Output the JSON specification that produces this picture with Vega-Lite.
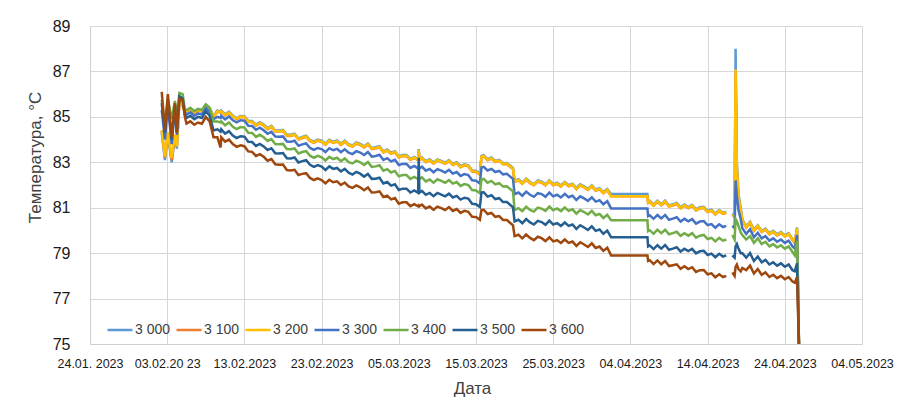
{
"$schema":"https://vega.github.io/schema/vega-lite/v6.json",
"width":772,"height":318,
"autosize":{"type":"none"},
"padding":{"left":90,"top":26,"right":44,"bottom":69},
"background":"white",
"config":{"font":"Liberation Sans","view":{"stroke":null}},
"data":{"values":[
{"t":"2023-02-02T07:00","a":84.3,"b":84.4,"c":84.4,"d":85.3,"e":85.75,"f":85.6,"g":86.1},
{"t":"2023-02-02T17:00","a":83.1,"b":83.2,"c":83.25,"d":84.0,"e":84.6,"f":84.3,"g":84.4},
{"t":"2023-02-03T02:00","a":84.2,"b":84.3,"c":84.3,"d":85.5,"e":85.8,"f":85.7,"g":86.0},
{"t":"2023-02-03T14:00","a":83.0,"b":83.1,"c":83.2,"d":83.8,"e":84.9,"f":84.0,"g":84.1},
{"t":"2023-02-04T00:00","a":84.1,"b":84.2,"c":84.2,"d":85.4,"e":85.7,"f":85.5,"g":85.6},
{"t":"2023-02-04T06:00","a":83.6,"b":83.7,"c":83.7,"d":84.2,"e":85.0,"f":84.3,"g":84.3},
{"t":"2023-02-04T14:00","a":85.7,"b":85.75,"c":85.75,"d":85.9,"e":86.05,"f":85.9,"g":85.8},
{"t":"2023-02-05T00:00","a":85.5,"b":85.5,"c":85.5,"d":85.8,"e":86.0,"f":85.8,"g":85.75},
{"t":"2023-02-05T07:00","a":85.2,"b":85.2,"c":85.2,"d":85.2,"e":85.3,"f":85.1,"g":85.0},
{"t":"2023-02-05T12:00","a":85.28,"b":85.23,"c":85.25,"d":85.1,"e":85.3,"f":84.95,"g":84.7},
{"t":"2023-02-06T00:00","a":85.38,"b":85.33,"c":85.35,"d":85.2,"e":85.4,"f":85.05,"g":84.8},
{"t":"2023-02-06T12:00","a":85.23,"b":85.18,"c":85.2,"d":85.05,"e":85.25,"f":84.9,"g":84.65},
{"t":"2023-02-07T00:00","a":85.33,"b":85.28,"c":85.3,"d":85.15,"e":85.35,"f":85.0,"g":84.75},
{"t":"2023-02-07T12:00","a":85.28,"b":85.23,"c":85.25,"d":85.1,"e":85.3,"f":84.95,"g":84.7},
{"t":"2023-02-08T00:00","a":85.53,"b":85.48,"c":85.5,"d":85.4,"e":85.55,"f":85.25,"g":85.0},
{"t":"2023-02-08T12:00","a":85.38,"b":85.33,"c":85.35,"d":85.2,"e":85.4,"f":85.05,"g":84.8},
{"t":"2023-02-09T00:00","a":85.03,"b":84.98,"c":85.0,"d":84.9,"e":84.8,"f":84.4,"g":84.1},
{"t":"2023-02-09T12:00","a":85.28,"b":85.23,"c":85.25,"d":85.0,"e":84.8,"f":84.45,"g":84.1},
{"t":"2023-02-09T22:00","a":85.23,"b":85.18,"c":85.2,"d":84.95,"e":84.75,"f":84.35,"g":83.65},
{"t":"2023-02-10T00:00","a":85.28,"b":85.23,"c":85.25,"d":85.05,"e":84.80,"f":84.45,"g":84.10},
{"t":"2023-02-10T12:00","a":85.11,"b":85.06,"c":85.08,"d":84.89,"e":84.63,"f":84.26,"g":83.91},
{"t":"2023-02-11T00:00","a":85.23,"b":85.18,"c":85.20,"d":85.02,"e":84.75,"f":84.37,"g":84.00},
{"t":"2023-02-11T12:00","a":85.05,"b":85.00,"c":85.02,"d":84.85,"e":84.56,"f":84.18,"g":83.80},
{"t":"2023-02-12T00:00","a":84.95,"b":84.90,"c":84.92,"d":84.76,"e":84.46,"f":84.07,"g":83.68},
{"t":"2023-02-12T12:00","a":85.04,"b":84.99,"c":85.01,"d":84.85,"e":84.55,"f":84.15,"g":83.75},
{"t":"2023-02-13T00:00","a":85.03,"b":84.98,"c":85.00,"d":84.83,"e":84.53,"f":84.13,"g":83.71},
{"t":"2023-02-13T12:00","a":84.82,"b":84.77,"c":84.79,"d":84.61,"e":84.30,"f":83.90,"g":83.48},
{"t":"2023-02-14T00:00","a":84.82,"b":84.77,"c":84.79,"d":84.60,"e":84.29,"f":83.89,"g":83.46},
{"t":"2023-02-14T12:00","a":84.66,"b":84.61,"c":84.63,"d":84.43,"e":84.12,"f":83.72,"g":83.28},
{"t":"2023-02-15T00:00","a":84.76,"b":84.71,"c":84.73,"d":84.52,"e":84.21,"f":83.81,"g":83.36},
{"t":"2023-02-15T12:00","a":84.66,"b":84.61,"c":84.63,"d":84.41,"e":84.10,"f":83.70,"g":83.24},
{"t":"2023-02-16T00:00","a":84.51,"b":84.46,"c":84.48,"d":84.26,"e":83.94,"f":83.54,"g":83.07},
{"t":"2023-02-16T12:00","a":84.60,"b":84.55,"c":84.57,"d":84.34,"e":84.02,"f":83.62,"g":83.14},
{"t":"2023-02-17T00:00","a":84.40,"b":84.35,"c":84.37,"d":84.13,"e":83.80,"f":83.40,"g":82.91},
{"t":"2023-02-17T12:00","a":84.40,"b":84.35,"c":84.37,"d":84.12,"e":83.79,"f":83.39,"g":82.89},
{"t":"2023-02-18T00:00","a":84.43,"b":84.38,"c":84.40,"d":84.14,"e":83.81,"f":83.41,"g":82.90},
{"t":"2023-02-18T12:00","a":84.21,"b":84.16,"c":84.18,"d":83.91,"e":83.58,"f":83.18,"g":82.66},
{"t":"2023-02-19T00:00","a":84.21,"b":84.16,"c":84.18,"d":83.90,"e":83.57,"f":83.17,"g":82.64},
{"t":"2023-02-19T12:00","a":84.26,"b":84.21,"c":84.23,"d":83.95,"e":83.61,"f":83.21,"g":82.67},
{"t":"2023-02-20T00:00","a":84.05,"b":84.00,"c":84.02,"d":83.73,"e":83.39,"f":82.99,"g":82.44},
{"t":"2023-02-20T12:00","a":84.12,"b":84.07,"c":84.09,"d":83.79,"e":83.45,"f":83.05,"g":82.49},
{"t":"2023-02-21T00:00","a":84.17,"b":84.12,"c":84.14,"d":83.83,"e":83.49,"f":83.09,"g":82.52},
{"t":"2023-02-21T12:00","a":83.98,"b":83.93,"c":83.95,"d":83.63,"e":83.29,"f":82.89,"g":82.31},
{"t":"2023-02-22T00:00","a":83.91,"b":83.86,"c":83.88,"d":83.55,"e":83.20,"f":82.80,"g":82.22},
{"t":"2023-02-22T12:00","a":84.00,"b":83.95,"c":83.97,"d":83.63,"e":83.28,"f":82.88,"g":82.29},
{"t":"2023-02-23T00:00","a":83.95,"b":83.90,"c":83.92,"d":83.58,"e":83.22,"f":82.81,"g":82.22},
{"t":"2023-02-23T12:00","a":83.82,"b":83.77,"c":83.79,"d":83.45,"e":83.08,"f":82.66,"g":82.07},
{"t":"2023-02-24T00:00","a":83.99,"b":83.94,"c":83.96,"d":83.62,"e":83.24,"f":82.82,"g":82.23},
{"t":"2023-02-24T12:00","a":83.90,"b":83.85,"c":83.87,"d":83.53,"e":83.14,"f":82.71,"g":82.12},
{"t":"2023-02-25T00:00","a":83.96,"b":83.91,"c":83.93,"d":83.59,"e":83.20,"f":82.75,"g":82.16},
{"t":"2023-02-25T12:00","a":83.82,"b":83.77,"c":83.79,"d":83.45,"e":83.05,"f":82.60,"g":82.00},
{"t":"2023-02-26T00:00","a":83.95,"b":83.90,"c":83.92,"d":83.57,"e":83.17,"f":82.71,"g":82.11},
{"t":"2023-02-26T12:00","a":83.80,"b":83.75,"c":83.77,"d":83.42,"e":83.01,"f":82.54,"g":81.94},
{"t":"2023-02-27T00:00","a":83.74,"b":83.69,"c":83.71,"d":83.36,"e":82.95,"f":82.46,"g":81.87},
{"t":"2023-02-27T12:00","a":83.87,"b":83.82,"c":83.84,"d":83.49,"e":83.07,"f":82.58,"g":81.98},
{"t":"2023-02-28T00:00","a":83.81,"b":83.76,"c":83.78,"d":83.43,"e":83.00,"f":82.50,"g":81.90},
{"t":"2023-02-28T12:00","a":83.70,"b":83.65,"c":83.67,"d":83.32,"e":82.88,"f":82.37,"g":81.77},
{"t":"2023-03-01T00:00","a":83.83,"b":83.78,"c":83.80,"d":83.45,"e":83.01,"f":82.49,"g":81.89},
{"t":"2023-03-01T12:00","a":83.63,"b":83.58,"c":83.60,"d":83.25,"e":82.80,"f":82.27,"g":81.67},
{"t":"2023-03-02T00:00","a":83.66,"b":83.61,"c":83.63,"d":83.28,"e":82.82,"f":82.28,"g":81.68},
{"t":"2023-03-02T12:00","a":83.71,"b":83.66,"c":83.68,"d":83.33,"e":82.87,"f":82.32,"g":81.72},
{"t":"2023-03-03T00:00","a":83.48,"b":83.43,"c":83.45,"d":83.10,"e":82.63,"f":82.07,"g":81.47},
{"t":"2023-03-03T12:00","a":83.56,"b":83.51,"c":83.53,"d":83.18,"e":82.70,"f":82.13,"g":81.53},
{"t":"2023-03-04T00:00","a":83.42,"b":83.37,"c":83.39,"d":83.04,"e":82.55,"f":81.97,"g":81.37},
{"t":"2023-03-04T12:00","a":83.49,"b":83.44,"c":83.46,"d":83.11,"e":82.62,"f":82.03,"g":81.43},
{"t":"2023-03-05T00:00","a":83.26,"b":83.21,"c":83.23,"d":82.88,"e":82.38,"f":81.78,"g":81.18},
{"t":"2023-03-05T12:00","a":83.32,"b":83.27,"c":83.29,"d":82.93,"e":82.44,"f":81.84,"g":81.24},
{"t":"2023-03-06T00:00","a":83.32,"b":83.27,"c":83.29,"d":82.93,"e":82.44,"f":81.84,"g":81.24},
{"t":"2023-03-06T12:00","a":83.15,"b":83.10,"c":83.12,"d":82.75,"e":82.27,"f":81.67,"g":81.07},
{"t":"2023-03-07T00:00","a":83.24,"b":83.19,"c":83.21,"d":82.84,"e":82.36,"f":81.76,"g":81.16},
{"t":"2023-03-07T12:00","a":83.14,"b":83.09,"c":83.11,"d":82.73,"e":82.26,"f":81.66,"g":81.06},
{"t":"2023-03-07T14:00","a":83.58,"b":83.53,"c":83.55,"d":82.75,"e":82.30,"f":83.20,"g":81.10},
{"t":"2023-03-07T16:00","a":83.14,"b":83.09,"c":83.11,"d":82.73,"e":82.26,"f":81.66,"g":81.06},
{"t":"2023-03-08T00:00","a":83.22,"b":83.17,"c":83.19,"d":82.81,"e":82.34,"f":81.74,"g":81.14},
{"t":"2023-03-08T12:00","a":83.05,"b":83.00,"c":83.02,"d":82.63,"e":82.16,"f":81.57,"g":80.97},
{"t":"2023-03-09T00:00","a":83.13,"b":83.08,"c":83.10,"d":82.71,"e":82.24,"f":81.65,"g":81.05},
{"t":"2023-03-09T12:00","a":82.99,"b":82.94,"c":82.96,"d":82.56,"e":82.10,"f":81.51,"g":80.91},
{"t":"2023-03-10T00:00","a":83.13,"b":83.08,"c":83.10,"d":82.70,"e":82.25,"f":81.65,"g":81.05},
{"t":"2023-03-10T12:00","a":83.06,"b":83.01,"c":83.03,"d":82.63,"e":82.18,"f":81.58,"g":80.98},
{"t":"2023-03-11T00:00","a":82.98,"b":82.93,"c":82.95,"d":82.55,"e":82.10,"f":81.50,"g":80.90},
{"t":"2023-03-11T12:00","a":83.10,"b":83.05,"c":83.07,"d":82.67,"e":82.22,"f":81.62,"g":81.03},
{"t":"2023-03-12T00:00","a":82.93,"b":82.88,"c":82.90,"d":82.50,"e":82.06,"f":81.45,"g":80.86},
{"t":"2023-03-12T12:00","a":83.00,"b":82.95,"c":82.97,"d":82.57,"e":82.13,"f":81.52,"g":80.94},
{"t":"2023-03-13T00:00","a":82.83,"b":82.78,"c":82.80,"d":82.40,"e":81.96,"f":81.36,"g":80.77},
{"t":"2023-03-13T12:00","a":82.91,"b":82.86,"c":82.88,"d":82.48,"e":82.04,"f":81.44,"g":80.86},
{"t":"2023-03-14T00:00","a":82.87,"b":82.82,"c":82.84,"d":82.44,"e":82.00,"f":81.40,"g":80.82},
{"t":"2023-03-14T12:00","a":82.64,"b":82.59,"c":82.61,"d":82.21,"e":81.78,"f":81.17,"g":80.60},
{"t":"2023-03-15T00:00","a":82.62,"b":82.57,"c":82.59,"d":82.19,"e":81.76,"f":81.15,"g":80.59},
{"t":"2023-03-15T12:00","a":82.50,"b":82.45,"c":82.47,"d":82.07,"e":81.64,"f":81.03,"g":80.47},
{"t":"2023-03-15T17:00","a":83.28,"b":83.23,"c":83.25,"d":82.77,"e":82.24,"f":81.67,"g":80.90},
{"t":"2023-03-16T00:00","a":83.31,"b":83.26,"c":83.28,"d":82.80,"e":82.27,"f":81.68,"g":80.91},
{"t":"2023-03-16T12:00","a":83.14,"b":83.09,"c":83.11,"d":82.64,"e":82.10,"f":81.49,"g":80.72},
{"t":"2023-03-17T00:00","a":83.21,"b":83.16,"c":83.18,"d":82.71,"e":82.18,"f":81.55,"g":80.77},
{"t":"2023-03-17T12:00","a":83.06,"b":83.01,"c":83.03,"d":82.57,"e":82.03,"f":81.38,"g":80.60},
{"t":"2023-03-18T00:00","a":83.11,"b":83.06,"c":83.08,"d":82.62,"e":82.08,"f":81.42,"g":80.63},
{"t":"2023-03-18T12:00","a":82.96,"b":82.91,"c":82.93,"d":82.47,"e":81.93,"f":81.25,"g":80.46},
{"t":"2023-03-19T00:00","a":82.97,"b":82.92,"c":82.94,"d":82.49,"e":81.94,"f":81.25,"g":80.46},
{"t":"2023-03-19T19:00","a":82.75,"b":82.70,"c":82.72,"d":82.27,"e":81.72,"f":81.02,"g":80.22},
{"t":"2023-03-20T00:00","a":82.18,"b":82.13,"c":82.15,"d":81.60,"e":80.90,"f":80.40,"g":79.75},
{"t":"2023-03-20T12:00","a":82.25,"b":82.20,"c":82.22,"d":81.67,"e":80.98,"f":80.47,"g":79.81},
{"t":"2023-03-21T00:00","a":82.10,"b":82.05,"c":82.07,"d":81.53,"e":80.85,"f":80.32,"g":79.65},
{"t":"2023-03-21T12:00","a":82.28,"b":82.23,"c":82.25,"d":81.71,"e":81.04,"f":80.50,"g":79.82},
{"t":"2023-03-22T00:00","a":82.13,"b":82.08,"c":82.10,"d":81.57,"e":80.90,"f":80.35,"g":79.67},
{"t":"2023-03-22T12:00","a":82.04,"b":81.99,"c":82.01,"d":81.48,"e":80.83,"f":80.26,"g":79.57},
{"t":"2023-03-23T00:00","a":82.20,"b":82.15,"c":82.17,"d":81.64,"e":81.00,"f":80.42,"g":79.72},
{"t":"2023-03-23T12:00","a":82.15,"b":82.10,"c":82.12,"d":81.60,"e":80.96,"f":80.37,"g":79.66},
{"t":"2023-03-24T00:00","a":82.03,"b":81.98,"c":82.00,"d":81.48,"e":80.86,"f":80.25,"g":79.53},
{"t":"2023-03-24T12:00","a":82.21,"b":82.16,"c":82.18,"d":81.67,"e":81.05,"f":80.43,"g":79.70},
{"t":"2023-03-25T00:00","a":82.04,"b":81.99,"c":82.01,"d":81.50,"e":80.89,"f":80.26,"g":79.52},
{"t":"2023-03-25T12:00","a":82.10,"b":82.05,"c":82.07,"d":81.57,"e":80.97,"f":80.32,"g":79.57},
{"t":"2023-03-26T00:00","a":81.98,"b":81.93,"c":81.95,"d":81.45,"e":80.85,"f":80.20,"g":79.45},
{"t":"2023-03-26T12:00","a":82.14,"b":82.09,"c":82.11,"d":81.61,"e":81.01,"f":80.35,"g":79.60},
{"t":"2023-03-27T00:00","a":81.99,"b":81.94,"c":81.96,"d":81.46,"e":80.86,"f":80.20,"g":79.45},
{"t":"2023-03-27T12:00","a":82.06,"b":82.01,"c":82.03,"d":81.53,"e":80.93,"f":80.26,"g":79.51},
{"t":"2023-03-28T00:00","a":81.87,"b":81.82,"c":81.84,"d":81.34,"e":80.74,"f":80.07,"g":79.32},
{"t":"2023-03-28T12:00","a":82.03,"b":81.98,"c":82.00,"d":81.50,"e":80.90,"f":80.23,"g":79.48},
{"t":"2023-03-29T00:00","a":81.94,"b":81.89,"c":81.91,"d":81.41,"e":80.81,"f":80.13,"g":79.38},
{"t":"2023-03-29T12:00","a":81.83,"b":81.78,"c":81.80,"d":81.30,"e":80.70,"f":80.02,"g":79.27},
{"t":"2023-03-30T00:00","a":81.99,"b":81.94,"c":81.96,"d":81.46,"e":80.86,"f":80.18,"g":79.43},
{"t":"2023-03-30T12:00","a":81.80,"b":81.75,"c":81.77,"d":81.27,"e":80.67,"f":79.98,"g":79.23},
{"t":"2023-03-31T00:00","a":81.86,"b":81.81,"c":81.83,"d":81.33,"e":80.73,"f":80.04,"g":79.29},
{"t":"2023-03-31T12:00","a":81.68,"b":81.63,"c":81.65,"d":81.15,"e":80.55,"f":79.85,"g":79.10},
{"t":"2023-04-01T00:00","a":81.82,"b":81.77,"c":81.79,"d":81.29,"e":80.69,"f":79.99,"g":79.24},
{"t":"2023-04-01T12:00","a":81.60,"b":81.50,"c":81.50,"d":80.97,"e":80.45,"f":79.70,"g":78.90},
{"t":"2023-04-06T05:00","a":81.60,"b":81.50,"c":81.50,"d":80.97,"e":80.45,"f":79.70,"g":78.90},
{"t":"2023-04-06T07:00","a":81.26,"b":81.21,"c":81.23,"d":80.63,"e":79.97,"f":79.30,"g":78.66},
{"t":"2023-04-06T12:00","a":81.30,"b":81.25,"c":81.27,"d":80.67,"e":80.01,"f":79.34,"g":78.69},
{"t":"2023-04-07T00:00","a":81.14,"b":81.09,"c":81.11,"d":80.51,"e":79.85,"f":79.18,"g":78.52},
{"t":"2023-04-07T12:00","a":81.31,"b":81.26,"c":81.28,"d":80.68,"e":80.03,"f":79.35,"g":78.68},
{"t":"2023-04-08T00:00","a":81.16,"b":81.11,"c":81.13,"d":80.53,"e":79.88,"f":79.20,"g":78.51},
{"t":"2023-04-08T12:00","a":81.31,"b":81.26,"c":81.28,"d":80.68,"e":80.03,"f":79.36,"g":78.65},
{"t":"2023-04-09T00:00","a":81.10,"b":81.05,"c":81.07,"d":80.47,"e":79.83,"f":79.15,"g":78.43},
{"t":"2023-04-09T12:00","a":81.15,"b":81.10,"c":81.12,"d":80.52,"e":79.88,"f":79.20,"g":78.47},
{"t":"2023-04-10T00:00","a":81.21,"b":81.16,"c":81.18,"d":80.58,"e":79.94,"f":79.26,"g":78.51},
{"t":"2023-04-10T12:00","a":81.02,"b":80.97,"c":80.99,"d":80.39,"e":79.76,"f":79.07,"g":78.31},
{"t":"2023-04-11T00:00","a":81.14,"b":81.09,"c":81.11,"d":80.51,"e":79.88,"f":79.19,"g":78.42},
{"t":"2023-04-11T12:00","a":81.03,"b":80.98,"c":81.00,"d":80.40,"e":79.77,"f":79.09,"g":78.30},
{"t":"2023-04-12T00:00","a":81.13,"b":81.08,"c":81.10,"d":80.50,"e":79.88,"f":79.19,"g":78.38},
{"t":"2023-04-12T12:00","a":80.93,"b":80.88,"c":80.90,"d":80.30,"e":79.68,"f":78.99,"g":78.17},
{"t":"2023-04-13T00:00","a":81.02,"b":80.97,"c":80.99,"d":80.39,"e":79.77,"f":79.08,"g":78.25},
{"t":"2023-04-13T12:00","a":81.04,"b":80.99,"c":81.01,"d":80.41,"e":79.80,"f":79.10,"g":78.26},
{"t":"2023-04-14T00:00","a":80.86,"b":80.81,"c":80.83,"d":80.23,"e":79.62,"f":78.92,"g":78.07},
{"t":"2023-04-14T12:00","a":80.91,"b":80.86,"c":80.88,"d":80.28,"e":79.67,"f":78.98,"g":78.11},
{"t":"2023-04-15T00:00","a":80.75,"b":80.70,"c":80.72,"d":80.12,"e":79.52,"f":78.82,"g":77.94},
{"t":"2023-04-15T12:00","a":80.90,"b":80.85,"c":80.87,"d":80.27,"e":79.67,"f":78.97,"g":78.07},
{"t":"2023-04-16T00:00","a":80.78,"b":80.73,"c":80.75,"d":80.15,"e":79.55,"f":78.85,"g":77.95},
{"t":"2023-04-16T10:00","a":80.83,"b":80.78,"c":80.80,"d":80.20,"e":79.60,"f":78.90,"g":78.00},
{"t":"2023-04-16T19:00","a":null,"b":null,"c":null,"d":null,"e":null,"f":null,"g":null},
{"t":"2023-04-17T05:00","a":80.75,"b":80.68,"c":80.70,"d":80.20,"e":79.80,"f":78.90,"g":78.15},
{"t":"2023-04-17T12:00","a":80.63,"b":80.58,"c":80.60,"d":80.10,"e":79.60,"f":78.80,"g":78.00},
{"t":"2023-04-17T15:00","a":88.00,"b":86.90,"c":87.10,"d":82.20,"e":80.50,"f":79.30,"g":78.40},
{"t":"2023-04-17T19:00","a":83.00,"b":82.60,"c":82.70,"d":81.50,"e":80.40,"f":79.40,"g":78.50},
{"t":"2023-04-18T00:00","a":81.60,"b":81.40,"c":81.50,"d":80.90,"e":80.20,"f":79.20,"g":78.30},
{"t":"2023-04-18T07:00","a":81.00,"b":80.90,"c":80.90,"d":80.50,"e":79.90,"f":79.00,"g":78.20},
{"t":"2023-04-18T12:00","a":80.48,"b":80.43,"c":80.45,"d":80.10,"e":79.80,"f":79.00,"g":78.35},
{"t":"2023-04-19T00:00","a":80.18,"b":80.13,"c":80.15,"d":79.85,"e":79.60,"f":78.80,"g":78.25},
{"t":"2023-04-19T12:00","a":80.38,"b":80.33,"c":80.35,"d":80.05,"e":79.75,"f":79.00,"g":78.45},
{"t":"2023-04-20T00:00","a":80.03,"b":79.98,"c":80.00,"d":79.70,"e":79.45,"f":78.65,"g":78.10},
{"t":"2023-04-20T12:00","a":80.23,"b":80.18,"c":80.20,"d":79.90,"e":79.65,"f":78.85,"g":78.30},
{"t":"2023-04-21T00:00","a":79.98,"b":79.93,"c":79.95,"d":79.65,"e":79.40,"f":78.60,"g":78.05},
{"t":"2023-04-21T12:00","a":80.08,"b":80.03,"c":80.05,"d":79.75,"e":79.50,"f":78.70,"g":78.15},
{"t":"2023-04-22T00:00","a":79.88,"b":79.83,"c":79.85,"d":79.55,"e":79.30,"f":78.50,"g":77.95},
{"t":"2023-04-22T12:00","a":79.98,"b":79.93,"c":79.95,"d":79.65,"e":79.40,"f":78.60,"g":78.05},
{"t":"2023-04-23T00:00","a":79.83,"b":79.78,"c":79.80,"d":79.50,"e":79.25,"f":78.45,"g":77.90},
{"t":"2023-04-23T12:00","a":79.93,"b":79.88,"c":79.90,"d":79.60,"e":79.35,"f":78.55,"g":78.00},
{"t":"2023-04-24T00:00","a":79.78,"b":79.73,"c":79.75,"d":79.45,"e":79.20,"f":78.40,"g":77.85},
{"t":"2023-04-24T12:00","a":79.88,"b":79.83,"c":79.85,"d":79.55,"e":79.30,"f":78.50,"g":77.95},
{"t":"2023-04-25T00:00","a":79.63,"b":79.58,"c":79.60,"d":79.30,"e":79.05,"f":78.25,"g":77.75},
{"t":"2023-04-25T07:00","a":79.48,"b":79.43,"c":79.45,"d":79.20,"e":78.90,"f":78.20,"g":77.70},
{"t":"2023-04-25T14:00","a":80.13,"b":80.05,"c":80.10,"d":79.80,"e":79.55,"f":78.55,"g":77.95},
{"t":"2023-04-25T20:00","a":75,"b":75,"c":75,"d":75,"e":75,"f":75,"g":75}
]},
"transform":[{"fold":["a","b","c","d","e","f","g"],"as":["s","v"]}],
"mark":{"type":"line","strokeWidth":2.5,"invalid":"break-paths-show-domains"},
"encoding":{
"x":{"field":"t","type":"temporal",
 "scale":{"domain":[{"year":2023,"month":1,"date":24},{"year":2023,"month":5,"date":4}]},
 "axis":{"title":"Дата",
  "values":[{"year":2023,"month":1,"date":24},{"year":2023,"month":2,"date":3},{"year":2023,"month":2,"date":13},{"year":2023,"month":2,"date":23},{"year":2023,"month":3,"date":5},{"year":2023,"month":3,"date":15},{"year":2023,"month":3,"date":25},{"year":2023,"month":4,"date":4},{"year":2023,"month":4,"date":14},{"year":2023,"month":4,"date":24},{"year":2023,"month":5,"date":4}],
  "labelExpr":"timeFormat(datum.value,'%d.%m')=='24.01'?'24.01. 2023':(timeFormat(datum.value,'%d.%m')=='03.02'?'03.02.20 23':timeFormat(datum.value,'%d.%m.%Y'))",
  "labelFontSize":12.5,"labelColor":"#1a1a1a","labelPadding":13,"labelFlush":false,"labelOverlap":false,
  "ticks":false,"tickSize":0,"domainColor":"#cfcfcf","grid":true,"gridColor":"#d6d6d6",
  "titleFontSize":17,"titleColor":"#404040","titleFontWeight":"normal",
  "titleX":382,"titleY":44,"titleAlign":"center","titleBaseline":"middle"}},
"y":{"field":"v","type":"quantitative",
 "scale":{"domain":[75,89],"nice":false,"zero":false},
 "axis":{"title":"Температура, °C","values":[75,77,79,81,83,85,87,89],
  "labelFontSize":16,"labelColor":"#1a1a1a","labelPadding":20,"labelFlush":false,
  "ticks":false,"tickSize":0,"domainColor":"#cfcfcf","grid":true,"gridColor":"#d6d6d6",
  "titleFontSize":17,"titleColor":"#404040","titleFontWeight":"normal",
  "titleX":-55,"titleY":131,"titleAngle":270,"titleAlign":"center","titleBaseline":"middle"}},
"color":{"field":"s","type":"nominal",
 "scale":{"domain":["a","b","c","d","e","f","g"],"range":["#5B9BD5","#ED7D31","#FFC000","#4472C4","#70AD47","#255E91","#9E480E"]},
 "legend":{"orient":"none","legendX":16,"legendY":290,"direction":"horizontal","columns":7,"title":null,
  "symbolType":"stroke","symbolSize":625,"symbolStrokeWidth":2.5,
  "labelFontSize":14,"labelColor":"#404040","labelOffset":1,"columnPadding":0,"padding":0,
  "labelExpr":"datum.label=='a'?'3 000':(datum.label=='b'?'3 100':(datum.label=='c'?'3 200':(datum.label=='d'?'3 300':(datum.label=='e'?'3 400':(datum.label=='f'?'3 500':'3 600')))))"}}
}
}
